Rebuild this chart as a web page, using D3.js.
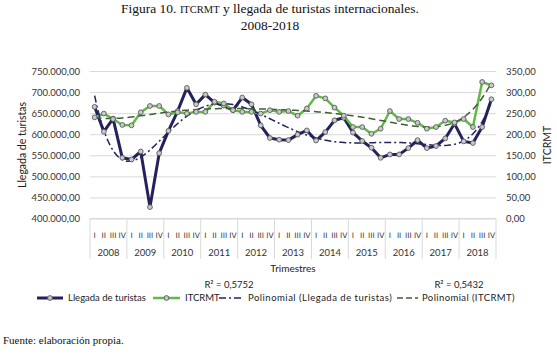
<!DOCTYPE html>
<html><head><meta charset="utf-8">
<script src="https://cdn.jsdelivr.net/npm/d3@7/dist/d3.min.js"></script>
<style>body{margin:0;background:#fff}svg{display:block}</style>
</head><body><svg id="c" width="557" height="354"></svg>
<script>
const years = ["2008","2009","2010","2011","2012","2013","2014","2015","2016","2017","2018"];
const quarters = ["I","II","III","IV"];
const llegadas = [665000,606000,637000,544000, 540000,559000,427000,555000, 608000,655000,710000,671000,
  694000,675000,668000,657000, 687000,671000,621000,591000, 587000,586000,599000,609000,
  585000,605000,633000,639000, 604000,584000,568000,544000, 552000,552000,567000,586000,
  567000,572000,590000,625000, 583000,579000,617000,683000];
const itcrmt = [240,249,236,222, 221,252,267,267, 247,252,249,253, 253,277,273,257,
  253,253,249,257, 253,255,244,261, 291,285,263,244, 217,217,201,213,
  255,236,236,227, 213,217,232,228, 236,217,324,316];
const leftTicks = [400000,450000,500000,550000,600000,650000,700000,750000];
const rightTicks = [0,50,100,150,200,250,300,350];
const seriesNames = ["Llegada de turistas","ITCRMT","Polinomial (Llegada de turistas)","Polinomial (ITCRMT)"];
const r2Labels = ["R² = 0,5752","R² = 0,5432"];
const trendDegree = 6;

const svg = d3.select("#c");
const L = 90, R = 496, T = 71, B = 218.5;
const navy = "#23225c", green = "#5fba46", trendGreen = "#3f5f36";
const sans = "Lato, 'Liberation Sans', sans-serif";
const serif = "'Liberation Serif', 'Times New Roman', serif";
const loc = d3.formatLocale({decimal:",", thousands:".", grouping:[3], currency:["",""]});
const fmt = loc.format(",.2f");

const n = llegadas.length;
const x = d3.scaleBand().domain(d3.range(n)).range([L, R]).padding(0);
const cx = i => x(i) + x.bandwidth()/2;
const xc = d3.scaleLinear().domain([0, n-1]).range([cx(0), cx(n-1)]);
const yL = d3.scaleLinear().domain([400000,750000]).range([B, T]);
const yR = d3.scaleLinear().domain([0,350]).range([B, T]);

// title
svg.append("text").attr("x",270).attr("y",13).attr("text-anchor","middle")
  .attr("font-family",serif).attr("font-size",13.5).attr("fill","#111")
  .call(t=>{t.append("tspan").text("Figura 10. ");
    t.append("tspan").attr("font-size",10.5).text("ITCRMT");
    t.append("tspan").text(" y llegada de turistas internacionales.");});
svg.append("text").attr("x",270).attr("y",30).attr("text-anchor","middle")
  .attr("font-family",serif).attr("font-size",13.5).attr("fill","#111").text("2008-2018");

// gridlines
svg.append("g").attr("transform",`translate(${L},0)`)
  .call(d3.axisLeft(yL).tickValues(leftTicks).tickSize(-(R-L)).tickFormat(""))
  .call(g=>g.select(".domain").remove())
  .call(g=>g.selectAll("line").attr("stroke","#d9d9d9").attr("stroke-width",1));

// left axis labels
svg.append("g").attr("transform",`translate(${L},0)`)
  .call(d3.axisLeft(yL).tickValues(leftTicks).tickSize(0).tickPadding(10).tickFormat(fmt))
  .call(g=>g.select(".domain").remove())
  .call(g=>g.selectAll("text").attr("font-family",sans).attr("font-size",9.5).attr("fill","#333"));
// right axis labels
svg.append("g").attr("transform",`translate(${R},0)`)
  .call(d3.axisRight(yR).tickValues(rightTicks).tickSize(0).tickPadding(10).tickFormat(fmt))
  .call(g=>g.select(".domain").remove())
  .call(g=>g.selectAll("text").attr("font-family",sans).attr("font-size",9.5).attr("fill","#333"));

// axis titles
svg.append("text").attr("transform","translate(26,145) rotate(-90)").attr("text-anchor","middle")
  .attr("font-family",sans).attr("font-size",10.5).attr("fill","#222").text("Llegada de turistas");
svg.append("text").attr("transform","translate(551,145) rotate(-90)").attr("text-anchor","middle")
  .attr("font-family",sans).attr("font-size",10.5).attr("fill","#222").text("ITCRMT");

// category axis: year separators
const yearW = (R-L)/years.length;
const yx = d3.scaleBand().domain(years).range([L,R]);
const sepG = svg.append("g");
d3.range(years.length+1).forEach(k=>{
  sepG.append("line").attr("x1",L+k*yearW).attr("x2",L+k*yearW).attr("y1",B).attr("y2",259)
    .attr("stroke","#d9d9d9").attr("stroke-width",1);
});
svg.append("line").attr("x1",L).attr("x2",R).attr("y1",B).attr("y2",B).attr("stroke","#d9d9d9");
// quarter labels
svg.append("g").selectAll("text").data(d3.range(n)).join("text")
  .attr("x",i=>cx(i)).attr("y",238).attr("text-anchor","middle")
  .attr("font-family","'DejaVu Sans', sans-serif").attr("font-size",7.5).attr("fill","#333")
  .text(i=>quarters[i%4]);
// year labels
svg.append("g").selectAll("text").data(years).join("text")
  .attr("x",d=>yx(d)+yx.bandwidth()/2).attr("y",256).attr("text-anchor","middle")
  .attr("font-family",sans).attr("font-size",9.5).attr("fill","#333").text(d=>d);
svg.append("text").attr("x",293).attr("y",272).attr("text-anchor","middle")
  .attr("font-family",sans).attr("font-size",10).attr("fill","#222").text("Trimestres");

// polynomial fit
function polyfit(vals, deg){
  const m = vals.length, c = (m-1)/2;
  const A = [], b = [];
  for(let r=0;r<=deg;r++){A.push(new Array(deg+1).fill(0)); b.push(0);}
  vals.forEach((v,i)=>{const t=(i-c)/c; const p=[];
    for(let k=0;k<=2*deg;k++) p.push(Math.pow(t,k));
    for(let r=0;r<=deg;r++){ b[r]+=v*p[r]; for(let s=0;s<=deg;s++) A[r][s]+=p[r+s]; }});
  const N=deg+1;
  for(let col=0;col<N;col++){
    let piv=col; for(let r=col+1;r<N;r++) if(Math.abs(A[r][col])>Math.abs(A[piv][col])) piv=r;
    [A[col],A[piv]]=[A[piv],A[col]]; [b[col],b[piv]]=[b[piv],b[col]];
    for(let r=0;r<N;r++){ if(r===col) continue; const f=A[r][col]/A[col][col];
      for(let s=col;s<N;s++) A[r][s]-=f*A[col][s]; b[r]-=f*b[col]; }
  }
  const coef = b.map((v,r)=>v/A[r][r]);
  return i=>{const t=(i-c)/c; let s=0; for(let k=N-1;k>=0;k--) s=s*t+coef[k]; return s;};
}
const fL = polyfit(llegadas, trendDegree), fR = polyfit(itcrmt, trendDegree);
const fine = d3.range(0, n-1+0.001, 0.25);

const plot = svg.append("g");
// series lines
plot.append("path").datum(llegadas).attr("fill","none").attr("stroke",navy).attr("stroke-width",3)
  .attr("stroke-linejoin","round").attr("d", d3.line().x((d,i)=>cx(i)).y(d=>yL(d)));
plot.append("path").datum(itcrmt).attr("fill","none").attr("stroke",green).attr("stroke-width",2.5)
  .attr("stroke-linejoin","round").attr("d", d3.line().x((d,i)=>cx(i)).y(d=>yR(d)));
// trend lines
plot.append("path").datum(fine).attr("fill","none").attr("stroke",navy).attr("stroke-width",1.5)
  .attr("stroke-dasharray","7,3,2,3").attr("d", d3.line().x(t=>xc(t)).y(t=>yL(fL(t))));
plot.append("path").datum(fine).attr("fill","none").attr("stroke",trendGreen).attr("stroke-width",1.5)
  .attr("stroke-dasharray","7,4").attr("d", d3.line().x(t=>xc(t)).y(t=>yR(fR(t))));
// markers
plot.append("g").selectAll("circle").data(llegadas).join("circle")
  .attr("cx",(d,i)=>cx(i)).attr("cy",d=>yL(d)).attr("r",2.4)
  .attr("fill","#c8c8c8").attr("stroke","#5a5a5a").attr("stroke-width",0.9);
plot.append("g").selectAll("circle").data(itcrmt).join("circle")
  .attr("cx",(d,i)=>cx(i)).attr("cy",d=>yR(d)).attr("r",2.4)
  .attr("fill","#c8c8c8").attr("stroke","#5a5a5a").attr("stroke-width",0.9);

// R² labels
svg.append("text").attr("x",229).attr("y",288).attr("text-anchor","middle").attr("font-family",sans)
  .attr("font-size",9.5).attr("fill","#222").text(r2Labels[0]);
svg.append("text").attr("x",459).attr("y",288).attr("text-anchor","middle").attr("font-family",sans)
  .attr("font-size",9.5).attr("fill","#222").text(r2Labels[1]);

// legend
const ly = 298;
const leg = svg.append("g").attr("font-family",sans).attr("font-size",9.5).attr("fill","#222");
const items = [
  {x1:37,x2:63,stroke:navy,w:3,dash:null,marker:true,tx:68,ls:0},
  {x1:153,x2:180,stroke:green,w:2.5,dash:null,marker:true,tx:185,ls:0},
  {x1:219,x2:243,stroke:navy,w:1.5,dash:"7,3,2,3",marker:false,tx:248,ls:0.5},
  {x1:397,x2:418,stroke:trendGreen,w:1.5,dash:"6,3",marker:false,tx:422,ls:0.4}
];
items.forEach((it,k)=>{
  leg.append("line").attr("x1",it.x1).attr("x2",it.x2).attr("y1",ly).attr("y2",ly)
    .attr("stroke",it.stroke).attr("stroke-width",it.w).attr("stroke-dasharray",it.dash);
  if(it.marker) leg.append("circle").attr("cx",(it.x1+it.x2)/2).attr("cy",ly).attr("r",2.4)
    .attr("fill","#c8c8c8").attr("stroke","#5a5a5a").attr("stroke-width",0.9);
  leg.append("text").attr("x",it.tx).attr("y",ly+3.3).attr("letter-spacing",it.ls).text(seriesNames[k]);
});

svg.append("text").attr("x",3).attr("y",344).attr("font-family",serif).attr("font-size",11)
  .attr("fill","#111").text("Fuente: elaboración propia.");
</script></body></html>
